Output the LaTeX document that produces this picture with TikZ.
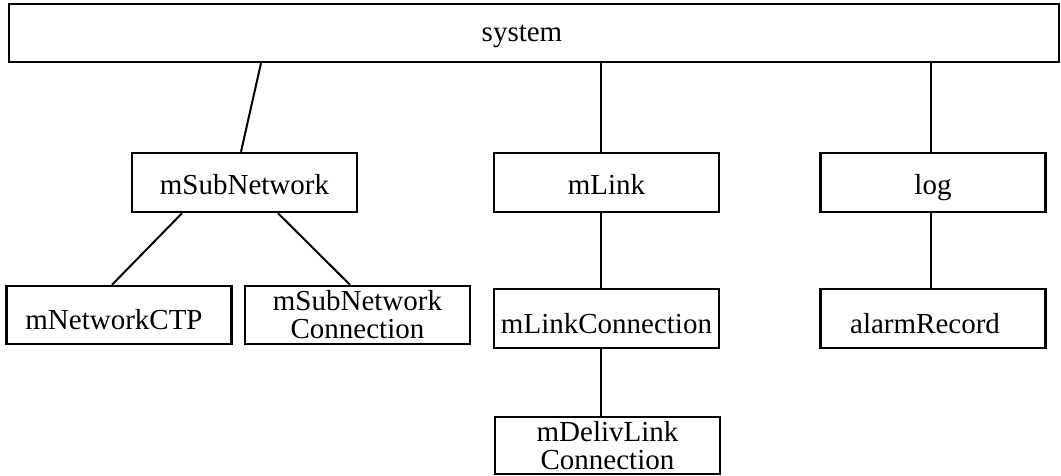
\documentclass[tikz,border=0pt]{standalone}
\usepackage{fontspec}
\setmainfont{Liberation Serif}
\usepackage{tikz}
\usetikzlibrary{calc}

\tikzset{
	box/.style={draw, line width=2.4pt, inner sep=0pt, minimum width=225pt, minimum height=58pt, align=center, font=\fontsize{29}{28}\selectfont},
	onerow/.style={text height=27pt, text depth=4pt},
	lowrow/.style={text height=31pt, text depth=2pt},
	link/.style={line width=2pt}
}

\begin{document}
\begin{tikzpicture}[x=1pt, y=-1pt]
\useasboundingbox (0,0) rectangle (1061,476);
% top level
\node[box, minimum width=1050pt, text height=23pt, text depth=6pt] (sys) at (534,33) {system\hspace*{24pt}};
% second level
\node[box, onerow, minimum height=59pt] (msub) at (244.5,182.5) {mSubNetwork};
\node[box, onerow, minimum height=59pt] (mlink) at (606.5,182.5) {mLink};
\node[box, onerow, minimum height=59pt] (log) at (933,182.5) {log};
% third level
\node[box, lowrow] (mnet) at (119,315) {mNetworkCTP\hspace*{10pt}};
\node[box] (msubcon) at (357.5,315) {mSubNetwork\\Connection};
\node[box, lowrow, minimum height=59pt] (mlinkcon) at (606.5,318.5) {mLinkConnection};
\node[box, lowrow, minimum height=59pt] (alarm) at (933,318.5) {alarmRecord\hspace*{16pt}};
% fourth level
\node[box, minimum height=57pt] (mdeliv) at (607.5,445.5) {mDelivLink\\Connection};

\path[link]
([xshift=-273pt]sys.south) edge ([xshift=-3.5pt]msub.north)
([xshift=67pt]sys.south) edge ([xshift=-5.5pt]mlink.north)
([xshift=397pt]sys.south) edge ([xshift=-2pt]log.north);
\path[link]
([xshift=-62.5pt]msub.south) edge ([xshift=-7pt]mnet.north)
([xshift=33.5pt]msub.south) edge ([xshift=-7.5pt]msubcon.north)
([xshift=-5.5pt]mlink.south) edge ([xshift=-5.5pt]mlinkcon.north)
([xshift=-2pt]log.south) edge ([xshift=-2pt]alarm.north)
([xshift=-5.5pt]mlinkcon.south) edge ([xshift=-6.5pt]mdeliv.north);
\end{tikzpicture}
\end{document}
